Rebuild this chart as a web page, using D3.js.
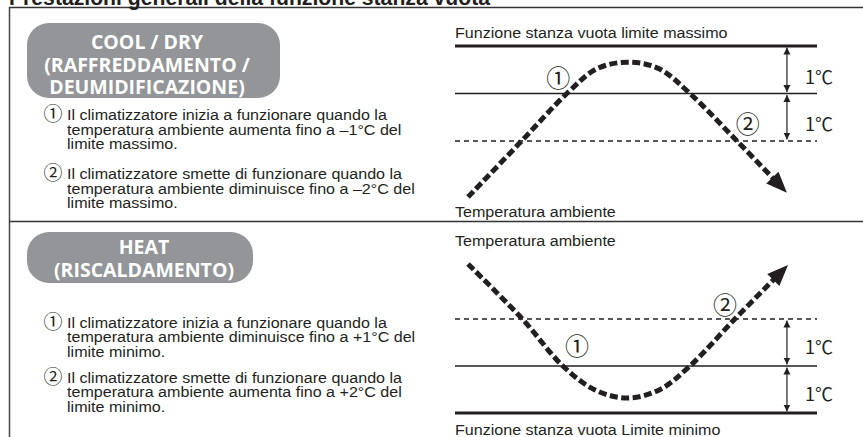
<!DOCTYPE html>
<html>
<head>
<meta charset="utf-8">
<script src="https://cdn.jsdelivr.net/npm/d3@7"></script>
<style>
  body { margin: 0; background: #fff; }
  svg { display: block; font-family: "Liberation Sans", Arial, Helvetica, sans-serif; }
</style>
</head>
<body>
<svg id="chart" width="863" height="437"></svg>
<script>
const title = "Prestazioni generali della funzione stanza vuota";

const coolPill = ["COOL / DRY", "(RAFFREDDAMENTO /", "DEUMIDIFICAZIONE)"];
const heatPill = ["HEAT", "(RISCALDAMENTO)"];

const coolNotes = [
    ["Il climatizzatore inizia a funzionare quando la", "temperatura ambiente aumenta fino a –1°C del", "limite massimo."],
    ["Il climatizzatore smette di funzionare quando la", "temperatura ambiente diminuisce fino a –2°C del", "limite massimo."]
];
const heatNotes = [
    ["Il climatizzatore inizia a funzionare quando la", "temperatura ambiente diminuisce fino a +1°C del", "limite minimo."],
    ["Il climatizzatore smette di funzionare quando la", "temperatura ambiente aumenta fino a +2°C del", "limite minimo."]
];
const marks = ["①", "②"];

// reference levels in °C relative to the limit: limit, start, stop
const coolLevels = [0, -1, -2];
const heatLevels = [0, 1, 2];
const stepLabel = "1℃";

// room temperature over time: [time, °C relative to the limit]
const coolCurve = [[3.6, -3.18], [18.4, -2], [30.9, -1], [39.2, -0.48], [47.8, -0.34], [56.4, -0.48], [64.9, -1], [77.9, -2], [91.7, -3.09]];
const heatCurve = [[3.6, 3.17], [18.6, 2], [29.8, 1], [38.7, 0.49], [47.5, 0.32], [56.4, 0.49], [64.9, 1], [77.3, 2], [92, 3.15]];

// where the circled numbers sit: [time, °C]
const coolMarks = [[28.5, -0.65], [80.9, -1.6]];
const heatMarks = [[33.7, 1.45], [74.6, 2.34]];

const coolTop = "Funzione stanza vuota limite massimo";
const coolBottom = "Temperatura ambiente";
const heatTop = "Temperatura ambiente";
const heatBottom = "Funzione stanza vuota Limite minimo";

const ink = "#231f20";
const svg = d3.select("#chart");

// body text: slightly wide Helvetica look
function bodyText(px, py, str) {
    return svg.append("text")
        .attr("transform", `translate(${px},${py}) scale(1.11,1)`)
        .attr("font-size", 14.5)
        .attr("fill", ink)
        .text(str);
}

// frame
svg.append("line").attr("x1", 9).attr("x2", 863).attr("y1", 7.5).attr("y2", 7.5)
    .attr("stroke", "#333").attr("stroke-width", 1.5);
svg.append("line").attr("x1", 9).attr("x2", 863).attr("y1", 221.5).attr("y2", 221.5)
    .attr("stroke", "#333").attr("stroke-width", 1.5);
svg.append("line").attr("x1", 9.5).attr("x2", 9.5).attr("y1", 7).attr("y2", 437)
    .attr("stroke", "#444").attr("stroke-width", 1.5);

svg.append("text")
    .attr("x", 9)
    .attr("y", 5)
    .attr("font-weight", "bold")
    .attr("font-size", 22)
    .attr("textLength", 481)
    .attr("lengthAdjust", "spacingAndGlyphs")
    .attr("fill", ink)
    .text(title);

// left side: grey pill + numbered notes
function drawPanel(pill, box, textX, pillBase, notes, noteBase, groupStep) {
    svg.append("rect")
        .attr("x", box.x).attr("y", box.y)
        .attr("width", box.w).attr("height", box.h)
        .attr("rx", 22).attr("ry", 22)
        .attr("fill", "#939598");

    svg.selectAll(null)
        .data(pill)
        .enter()
        .append("text")
        .attr("x", textX)
        .attr("y", (d, i) => pillBase + i * 22.5)
        .attr("text-anchor", "middle")
        .attr("font-family", "'Open Sans', sans-serif")
        .attr("font-weight", "bold")
        .attr("font-size", 19.5)
        .attr("fill", "#fff")
        .text(d => d);

    notes.forEach((lines, g) => {
        const base = noteBase + g * groupStep;
        svg.append("text")
            .attr("x", 53)
            .attr("y", base + 1)
            .attr("text-anchor", "middle")
            .attr("font-family", "'Noto Sans CJK JP', sans-serif")
            .attr("font-size", 19)
            .attr("fill", ink)
            .text(marks[g]);

        lines.forEach((line, i) => bodyText(67, base + i * 14.5, line));
    });
}

drawPanel(coolPill, { x: 27, y: 23, w: 253, h: 75 }, 147, 49, coolNotes, 120, 59);
drawPanel(heatPill, { x: 27, y: 232, w: 226, h: 51 }, 144, 254, heatNotes, 327.5, 55);

// right side diagrams
const x = d3.scaleLinear().domain([0, 100]).range([455, 817]);

svg.append("defs").append("marker")
    .attr("id", "tip")
    .attr("viewBox", "0 0 10 10")
    .attr("refX", 10).attr("refY", 5)
    .attr("markerWidth", 7).attr("markerHeight", 9)
    .attr("markerUnits", "userSpaceOnUse")
    .attr("orient", "auto-start-reverse")
    .append("path")
    .attr("d", "M0,0 L10,5 L0,10 Z")
    .attr("fill", ink);

function drawDiagram(y, levels, curve, markPos, topText, topY, bottomText, bottomY, labelShift) {
    // limit / start / stop lines
    svg.selectAll(null)
        .data(levels)
        .enter()
        .append("line")
        .attr("x1", x(0)).attr("x2", x(100))
        .attr("y1", d => y(d)).attr("y2", d => y(d))
        .attr("stroke", ink)
        .attr("stroke-width", (d, i) => i === 0 ? 3.2 : 1.3)
        .attr("stroke-dasharray", (d, i) => i === 2 ? "5 4" : null);

    // 1°C spans
    const ax = x(91.7);
    d3.pairs(levels).forEach(([a, b]) => {
        const ya = y(a), yb = y(b);
        const dir = Math.sign(yb - ya);
        svg.append("line")
            .attr("x1", ax).attr("x2", ax)
            .attr("y1", ya + dir * 1.5).attr("y2", yb - dir * 1.5)
            .attr("stroke", ink).attr("stroke-width", 1.2)
            .attr("marker-start", "url(#tip)")
            .attr("marker-end", "url(#tip)");
        svg.append("text")
            .attr("x", ax + 18)
            .attr("y", (ya + yb) / 2 + labelShift)
            .attr("dominant-baseline", "central")
            .attr("font-family", "'Noto Sans CJK JP', sans-serif")
            .attr("font-size", 18)
            .attr("fill", ink)
            .text(stepLabel);
    });

    // temperature curve with arrow head
    const pts = curve.map(d => [x(d[0]), y(d[1])]);
    const tip = pts[pts.length - 1];
    const prev = pts[pts.length - 2];
    const len = Math.hypot(tip[0] - prev[0], tip[1] - prev[1]);
    const u = [(tip[0] - prev[0]) / len, (tip[1] - prev[1]) / len];
    const n = [-u[1], u[0]];
    const drawn = pts.slice(0, -1).concat([[tip[0] - u[0] * 14, tip[1] - u[1] * 14]]);

    svg.append("path")
        .attr("d", d3.line().curve(d3.curveCatmullRom.alpha(0.5))(drawn))
        .attr("fill", "none")
        .attr("stroke", ink)
        .attr("stroke-width", 5)
        .attr("stroke-dasharray", "8 3.5");

    const base = [tip[0] - u[0] * 21, tip[1] - u[1] * 21];
    svg.append("path")
        .attr("d", `M${tip[0]},${tip[1]}L${base[0] + n[0] * 8.5},${base[1] + n[1] * 8.5}L${base[0] - n[0] * 8.5},${base[1] - n[1] * 8.5}Z`)
        .attr("fill", ink);

    svg.selectAll(null)
        .data(markPos)
        .enter()
        .append("text")
        .attr("x", d => x(d[0]))
        .attr("y", d => y(d[1]))
        .attr("text-anchor", "middle")
        .attr("dominant-baseline", "central")
        .attr("font-family", "'Noto Sans CJK JP', sans-serif")
        .attr("font-size", 24)
        .attr("fill", ink)
        .text((d, i) => marks[i]);

    bodyText(x(0), topY, topText);
    bodyText(x(0), bottomY, bottomText);
}

const yCool = d3.scaleLinear().domain([0, -2]).range([46, 141]);
const yHeat = d3.scaleLinear().domain([0, 2]).range([413, 319]);

drawDiagram(yCool, coolLevels, coolCurve, coolMarks, coolTop, 38, coolBottom, 217, 6);
drawDiagram(yHeat, heatLevels, heatCurve, heatMarks, heatTop, 246, heatBottom, 435, 3);
</script>
</body>
</html>
